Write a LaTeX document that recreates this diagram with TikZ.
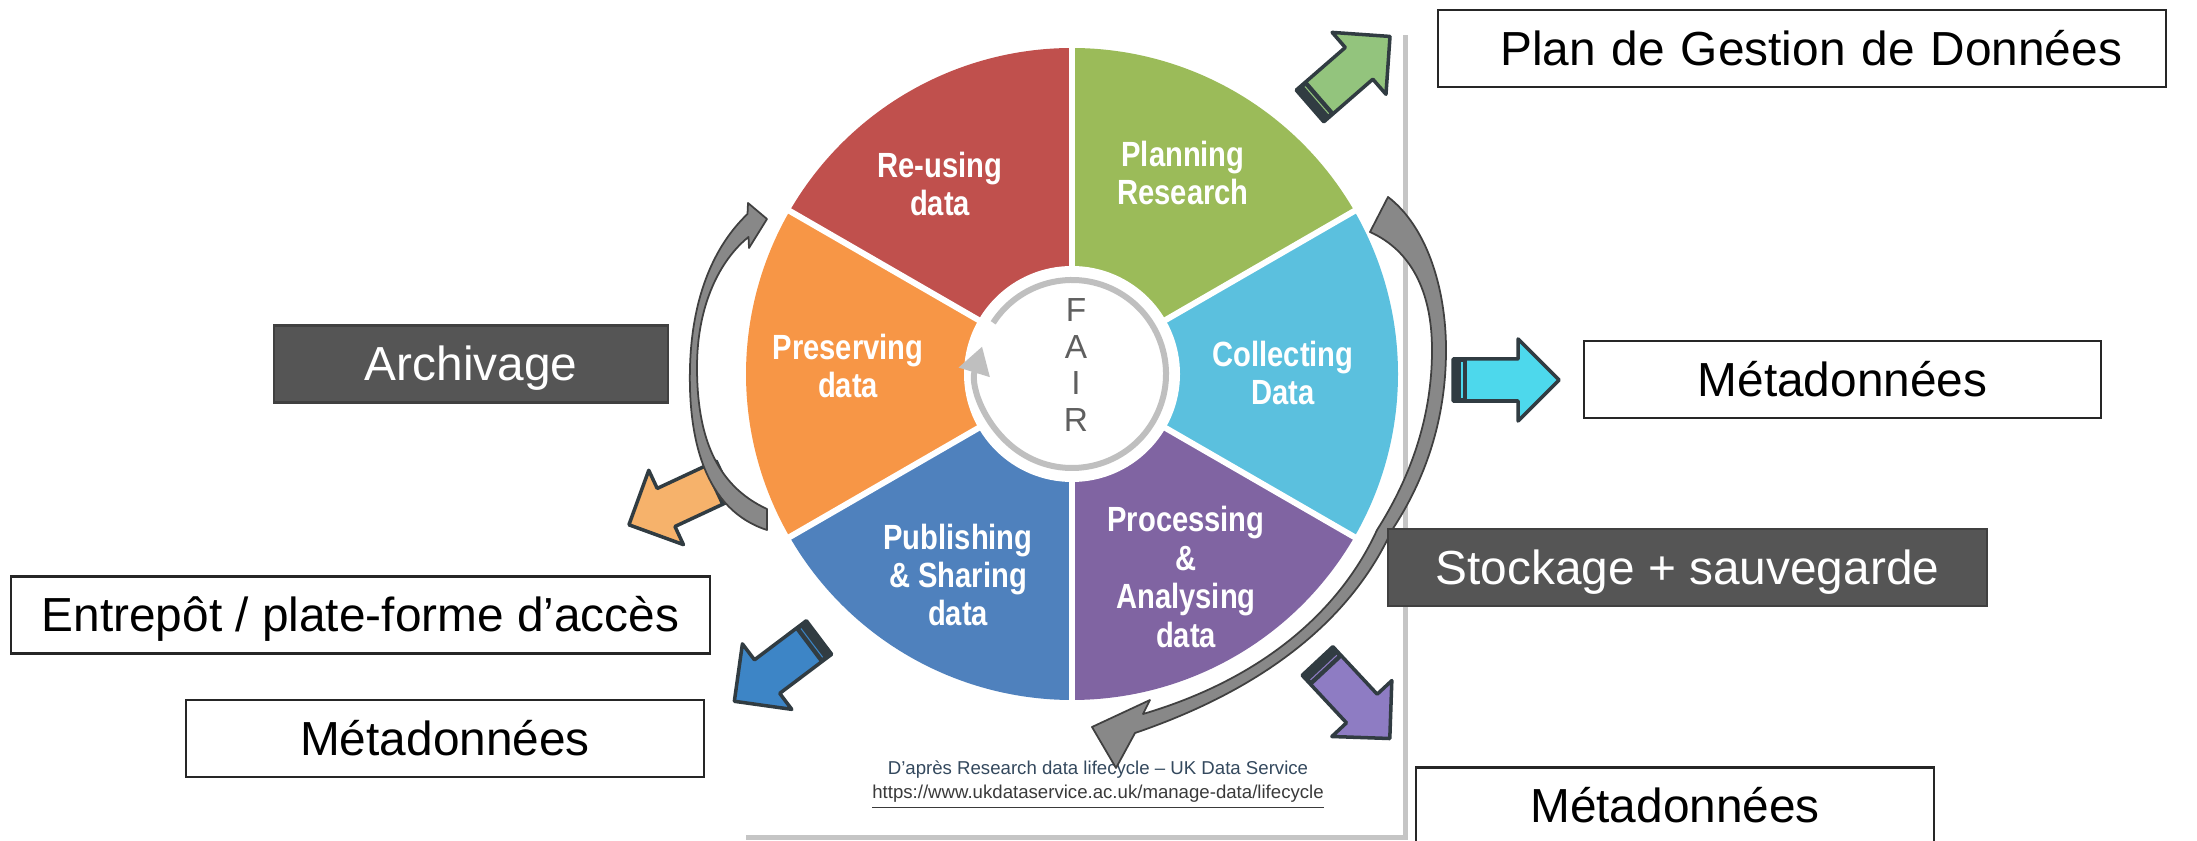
\documentclass[tikz,border=0pt]{standalone}
\usepackage{fontspec}
\setmainfont{Liberation Sans}
\usepackage{tikz}
\usetikzlibrary{arrows.meta,shadows,positioning}

\definecolor{pred}{HTML}{C0504D}
\definecolor{pgreen}{HTML}{9BBB59}
\definecolor{pcyan}{HTML}{5BC0DE}
\definecolor{ppurple}{HTML}{8064A2}
\definecolor{pblue}{HTML}{4F81BD}
\definecolor{porange}{HTML}{F79646}
\definecolor{ringgray}{HTML}{BFBFBF}
\definecolor{fairgray}{HTML}{5F5F5F}
\definecolor{creditblue}{HTML}{34495E}
\definecolor{urlgray}{HTML}{3A3A3A}
\definecolor{agreen}{HTML}{93C47D}
\definecolor{acyan}{HTML}{4DD8EC}
\definecolor{apurple}{HTML}{8E7CC3}
\definecolor{ablue}{HTML}{3D85C6}
\definecolor{aorange}{HTML}{F6B26B}
\definecolor{arrowdark}{HTML}{313C42}
\definecolor{boxdark}{HTML}{555555}
\definecolor{curvegray}{HTML}{888888}

\tikzset{
    whitebox/.style={draw=black!85, line width=0.6pt, fill=white, minimum height=0.77cm,
        inner sep=0pt, text height=0.44cm, text depth=0.10cm, font=\fontsize{13.6}{16}\selectfont},
    darkbox/.style={whitebox, fill=boxdark, draw=black!75, text=white},
    seglabel/.style={text=white, align=center, inner sep=0pt, yscale=1.2,
        font=\fontsize{8.3}{9.1}\selectfont\bfseries},
    fairletter/.style={text=fairgray, inner sep=0pt, font=\fontsize{9.5}{10}\selectfont},
    credit/.style={inner sep=0pt, font=\fontsize{5.3}{6}\selectfont},
    curvearrow/.style={fill=curvegray, draw=black!75, line width=0.5pt, line join=round},
    arrowedge/.style={draw=arrowdark, line width=1pt, line join=round},
    pics/fatarrow/.style={code={
        \draw[arrowedge, fill=#1] (0,-0.21) -- (0.65,-0.21) -- (0.65,-0.41) -- (1.06,0)
            -- (0.65,0.41) -- (0.65,0.21) -- (0,0.21) -- cycle;
        \fill[arrowdark] (0,-0.21) rectangle (0.14,0.21);
        \draw[#1, line width=0.3pt] (0.09,-0.18) -- (0.09,0.18);
    }}
}

\begin{document}
\begin{tikzpicture}
            \useasboundingbox (0,0) rectangle (21.97,-8.41);
            \fill[white] (0,0) rectangle (21.97,-8.41);
            \clip (0,0) rectangle (21.97,-8.41);

            \fill[white, drop shadow={shadow xshift=0.05cm, shadow yshift=-0.05cm, opacity=0.45}]
                (7.41,-0.30) rectangle (14.03,-8.35);

            \coordinate (pie) at (10.72,-3.74);
            \foreach \a/\c in {30/pgreen, 90/pred, 150/porange, 210/pblue, 270/ppurple, 330/pcyan}
                \fill[\c] (pie) -- ++(\a:3.26) arc[start angle=\a, end angle=\a+60, radius=3.26] -- cycle;
            \foreach \a in {30,90,...,330}
                \draw[white, line width=0.06cm] (pie) -- ++(\a:3.3);

            \fill[white] (pie) circle (1.08);
            \draw[ringgray, line width=0.06cm, -{Triangle[width=0.31cm, length=0.27cm]}]
                (pie) ++(147:0.94) arc[start angle=147, end angle=-197, radius=0.94];
            \foreach \l [count=\i] in {F,A,I,R}
                \node[fairletter] (fair\l) at ([shift={(0.04,1.00-0.365*\i)}]pie) {\l};

            \node[seglabel] (reuse) at (9.40,-1.84) {Re-using\\data};
            \node[seglabel] (plan) at (11.83,-1.73) {Planning\\Research};
            \node[seglabel] (collect) at (12.83,-3.73) {Collecting\\Data};
            \node[seglabel] (process) at (11.86,-5.77) {Processing\\\&\\Analysing\\data};
            \node[seglabel] (publish) at (9.58,-5.75) {Publishing\\\& Sharing\\data};
            \node[seglabel] (preserve) at (8.48,-3.66) {Preserving\\data};

            \node[credit, text=creditblue] (credit) at (10.98,-7.70) {D’après Research data lifecycle – UK Data Service};
            \node[credit, text=urlgray, below=0.05cm of credit] (url) {\underline{https://www.ukdataservice.ac.uk/manage-data/lifecycle}};

            \pic[rotate=205] (orangearrow) at (7.25,-4.80) {fatarrow=aorange};

            \draw[curvearrow] (7.67,-5.30) .. controls (7.05,-5.10) and (6.88,-4.40) .. (6.90,-3.67)
                .. controls (6.92,-2.95) and (7.15,-2.45) .. (7.475,-2.14)
                -- (7.48,-2.03) -- (7.67,-2.19) -- (7.49,-2.48) -- (7.485,-2.37)
                .. controls (7.20,-2.60) and (6.97,-3.05) .. (6.97,-3.67)
                .. controls (6.97,-4.35) and (7.15,-4.85) .. (7.67,-5.09) -- cycle;

            \draw[curvearrow] (13.88,-1.97) .. controls (14.25,-2.25) and (14.46,-2.85) .. (14.46,-3.50)
                .. controls (14.46,-4.20) and (14.25,-4.80) .. (13.92,-5.30)
                .. controls (13.60,-6.00) and (12.90,-6.80) .. (11.35,-7.33)
                -- (11.16,-7.68) -- (10.92,-7.27) -- (11.50,-7.00) -- (11.43,-7.14)
                .. controls (12.75,-6.75) and (13.45,-6.00) .. (13.77,-5.30)
                .. controls (14.12,-4.75) and (14.32,-4.15) .. (14.32,-3.50)
                .. controls (14.32,-2.90) and (14.10,-2.50) .. (13.70,-2.32) -- cycle;

            \pic[rotate=41] (planarrow) at (13.10,-1.06) {fatarrow=agreen};
            \pic (collectarrow) at (14.53,-3.80) {fatarrow=acyan};
            \pic[rotate=-47] (processarrow) at (13.175,-6.61) {fatarrow=apurple};
            \pic[rotate=217] (publisharrow) at (8.19,-6.375) {fatarrow=ablue};

            \node[whitebox, text width=6.40cm, inner xsep=0.44cm, align=right] (pgd) at (18.02,-0.485) {Plan de Gestion de Données};
            \node[darkbox, minimum width=3.94cm] (archive) at (4.71,-3.64) {Archivage};
            \node[whitebox, minimum width=5.17cm] (metaright) at (18.425,-3.795) {Métadonnées};
            \node[darkbox, minimum width=5.99cm] (storage) at (16.875,-5.675) {Stockage + sauvegarde};
            \node[whitebox, minimum width=6.99cm] (repo) at (3.605,-6.15) {Entrepôt / plate-forme d’accès};
            \node[whitebox, minimum width=5.18cm] (metaleft) at (4.45,-7.385) {Métadonnées};
            \node[whitebox, minimum width=5.18cm] (metabottom) at (16.75,-8.06) {Métadonnées};
        \end{tikzpicture}
\end{document}
